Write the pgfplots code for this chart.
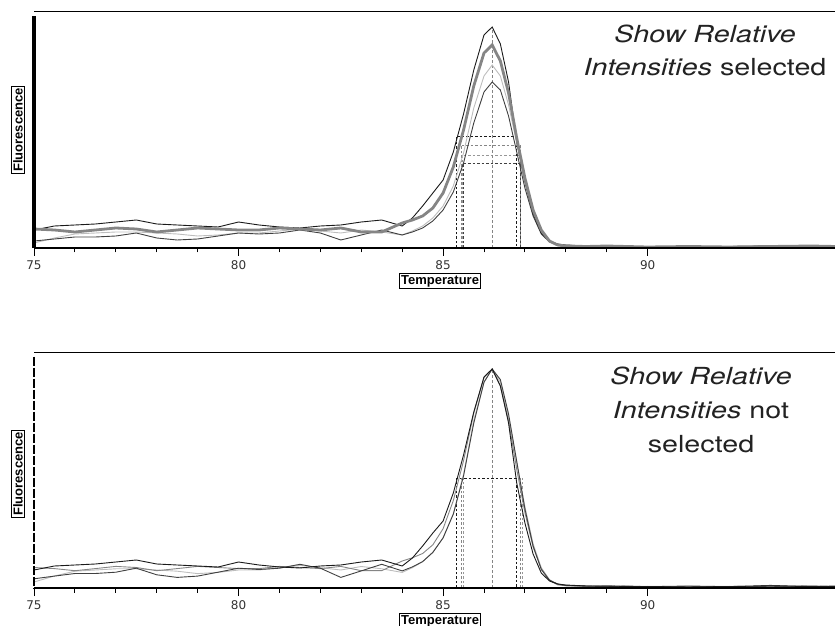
\documentclass[border=0pt]{standalone}
\usepackage{fontspec}
\setmainfont{TeX Gyre Heros}
\newfontfamily\annotfont[FakeStretch=1.22]{TeX Gyre Heros}
\newfontfamily\tickfont{DejaVu Sans}
\newfontfamily\labfont{Liberation Sans}
\usepackage{pgfplots}
\usepackage{pgfplotstable}
\pgfplotsset{compat=1.18}

\definecolor{curveA}{HTML}{1A1A1A}
\definecolor{curveB}{HTML}{858585}
\definecolor{curveC}{HTML}{BDBDBD}
\definecolor{curveD}{HTML}{404040}
\definecolor{annot}{HTML}{222222}

% Melt curves, raw intensities (-dF/dT, arbitrary units)
\pgfplotstableread{
T     A    B    C    D
75    18   19   5    7
75.5  22   18   10   9
76    23   16   14   11
76.5  24   18   15   11
77    26   20   16   12
77.5  28   19   16   15
78    24   16   15   10
78.5  23   18   14   8
79    22   20   12   9
79.5  21   19   13   12
80    26   18   15   15
80.5  23   18   15   14
81    21   20   17   15
81.5  20   19   19   18
82    22   18   17   15
82.5  23   20   15   8
83    26   16   18   13
83.5  28   16   16   18
84    22   25   13   13
84.25 30   28   17   16
84.5  42   32   22   20
84.75 55   40   30   27
85    68   55   42   38
85.25 96   81   62   56
85.5  134  118  95   85
85.75 178  162  140  125
86    213  195  172  156
86.2  221  203  183  166
86.4  204  187  172  158
86.6  166  155  143  132
86.8  106  110  105  96
87    66   70   68   60
87.2  34   38   37   32
87.4  15   18   17   14
87.6  7    7    7    6
87.8  4    3    3    3
88    3    2    2    2
88.5  2    1.5  1.5  1.5
89    2    2    1.5  1
89.5  1.5  1.5  1    1.5
90    1.5  1    1.5  1
91    1    1.5  1    1.5
92    1.5  1    1.5  1
93    2    1.5  1    2
94    1.5  2    1.5  1
94.6  1.5  1.5  1    1.5
}\rawdata

% Same curves, each normalised to a common peak height
\pgfplotstableread{
T     A    B      C      D
75    18   20.5   6      9.2
75.5  22   19.4   12     11.9
76    23   17.3   16.8   14.5
76.5  24   19.4   18     14.5
77    26   21.6   19.2   15.8
77.5  28   20.5   19.2   19.8
78    24   17.3   18     13.2
78.5  23   19.4   16.8   10.6
79    22   21.6   14.4   11.9
79.5  21   20.5   15.6   15.8
80    26   19.4   18     19.8
80.5  23   19.4   18     18.5
81    21   21.6   20.3   19.8
81.5  20   20.5   22.7   23.7
82    22   19.4   20.3   19.8
82.5  23   21.6   18     10.6
83    26   17.3   21.5   17.1
83.5  28   17.3   19.2   23.7
84    22   27     15.6   17.1
84.25 30   30.2   20.3   21.1
84.5  42   34.5   26.3   26.4
84.75 55   43.2   35.9   35.6
85    67   59.3   50.3   50.1
85.25 95   87.4   74.2   73.9
85.5  133  127.3  113.7  112.1
85.75 176  174.8  167.6  164.9
86    211  210.4  205.9  205.8
86.2  219  219    219    219
86.4  202  201.8  205.9  208.4
86.6  165  167.2  171.2  174.1
86.8  105  118.7  125.7  126.6
87    65   75.5   81.4   79.1
87.2  34   41     44.3   42.2
87.4  15   19.4   20.3   18.5
87.6  7    7.6    8.4    7.9
87.8  4    3.2    3.6    4
88    3    2.2    2.4    2.6
88.5  2    1.6    1.8    2
89    2    2.2    1.8    1.3
89.5  1.5  1.6    1.2    2
90    1.5  1.1    1.8    1.3
91    1    1.6    1.2    2
92    1.5  1.1    1.8    1.3
93    2    1.6    1.2    2.6
94    1.5  2.2    1.8    1.3
94.6  1.5  1.6    1.2    2
}\normdata

\pgfplotsset{
  meltaxis/.style={
    scale only axis, width=801bp,
    xmin=75, xmax=94.58, ymin=0,
    clip mode=individual,
    axis line style={draw=none},
    xtick={75,80,85,90}, minor x tick num=4, ytick=\empty,
    tick align=outside, xtick pos=bottom,
    major tick length=8bp, minor tick length=4.5bp,
    tick style={black, line width=1bp},
    /pgf/number format/assume math mode=true,
    xticklabel style={font=\tickfont\fontsize{12bp}{14bp}\selectfont, text=black!80, yshift=-1bp},
    xlabel={Temperature}, ylabel={Fluorescence},
    label style={draw, line width=0.9bp, inner sep=1.6bp,
      font=\labfont\bfseries\fontsize{13bp}{14bp}\selectfont},
    xlabel style={at={(axis description cs:0.507,-0.14)}, anchor=center},
  },
  dashA/.style={curveA, line width=0.8bp, dash pattern=on 2.5bp off 2bp},
  dashB/.style={curveB, line width=0.8bp, dash pattern=on 2.5bp off 2bp},
  dashC/.style={curveC!80!black, line width=0.8bp, dash pattern=on 2.5bp off 2bp},
  dashD/.style={curveD, line width=0.8bp, dash pattern=on 2.5bp off 2bp},
}

\begin{document}
\begin{tikzpicture}
\useasboundingbox (0,0) rectangle (835bp,626bp);

% Upper panel: relative intensities kept
\begin{axis}[meltaxis, at={(34bp,378bp)}, anchor=south west,
  height=236bp, ymax=236,
  ylabel style={at={(axis description cs:-0.02,0.5)}, anchor=center}]
  % half-maximum widths and Tm markers
  \addplot[dashA] coordinates {(85.33,0) (85.33,112) (86.78,112) (86.78,0)};
  \addplot[dashB] coordinates {(85.44,0) (85.44,103) (86.88,103) (86.88,0)};
  \addplot[dashC] coordinates {(85.47,0) (85.47,93) (86.9,93) (86.9,0)};
  \addplot[dashD] coordinates {(85.49,0) (85.49,85) (86.9,85) (86.9,0)};
  \addplot[curveB, line width=0.8bp, dash pattern=on 3bp off 2bp] coordinates {(86.2,0) (86.2,221)};
  % melt curves
  \addplot[curveC, line width=0.9bp] table[x=T, y=C]{\rawdata};
  \addplot[curveD, line width=0.9bp] table[x=T, y=D]{\rawdata};
  \addplot[curveA, line width=0.9bp] table[x=T, y=A]{\rawdata};
  \addplot[curveB, line width=2.8bp] table[x=T, y=B]{\rawdata};
  % frame
  \draw[black, line width=1.3bp] (rel axis cs:0,0) -- (rel axis cs:1,0);
  \draw[black, line width=1bp] (rel axis cs:0,1) -- (rel axis cs:1,1);
  \draw[black, line width=3bp] (rel axis cs:0,0) -- (rel axis cs:0,0.985);
\end{axis}

% Lower panel: each curve scaled to the same maximum
\begin{axis}[meltaxis, at={(34bp,38bp)}, anchor=south west,
  height=235bp, ymax=235,
  ylabel style={at={(axis description cs:-0.02,0.485)}, anchor=center}]
  \addplot[dashA] coordinates {(85.33,0) (85.33,109.5) (86.78,109.5) (86.78,0)};
  \addplot[dashB] coordinates {(85.44,0) (85.44,109.5)};
  \addplot[dashC] coordinates {(85.49,0) (85.49,109.5)};
  \addplot[dashB] coordinates {(86.88,0) (86.88,109.5)};
  \addplot[dashC] coordinates {(86.93,0) (86.93,109.5)};
  \addplot[curveB, line width=0.8bp, dash pattern=on 3bp off 2bp] coordinates {(86.2,0) (86.2,219)};
  \addplot[curveC, line width=0.9bp] table[x=T, y=C]{\normdata};
  \addplot[curveB, line width=0.9bp] table[x=T, y=B]{\normdata};
  \addplot[curveD, line width=0.9bp] table[x=T, y=D]{\normdata};
  \addplot[curveA, line width=0.9bp] table[x=T, y=A]{\normdata};
  \draw[black, line width=1.3bp] (rel axis cs:0,0) -- (rel axis cs:1,0);
  \draw[black, line width=1bp] (rel axis cs:0,1) -- (rel axis cs:1,1);
  \draw[black, line width=2.2bp, dash pattern=on 9bp off 2bp] (rel axis cs:0,0.985) -- (rel axis cs:0,0);
\end{axis}

% captions
\node[annot, align=center, font=\annotfont\fontsize{23.5bp}{33bp}\selectfont]
  at (705bp,576bp) {\textit{Show Relative}\\\textit{Intensities} selected};
\node[annot, align=center, font=\annotfont\fontsize{23.5bp}{34bp}\selectfont]
  at (701bp,216bp) {\textit{Show Relative}\\\textit{Intensities} not\\selected};
\end{tikzpicture}
\end{document}
